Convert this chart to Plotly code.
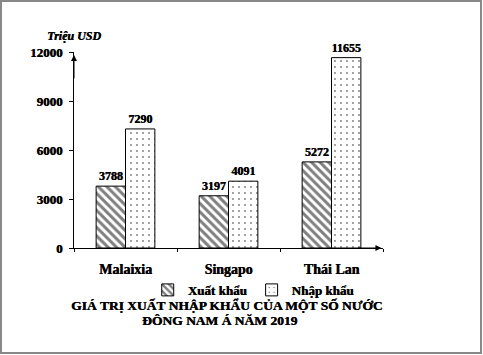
import plotly.graph_objects as go

categories = ["Malaixia", "Singapo", "Thái Lan"]
export_vals = [3788, 3197, 5272]
import_vals = [7290, 4091, 11655]
series_names = ["Xuất khẩu", "Nhập khẩu"]
y_ticks = [0, 3000, 6000, 9000, 12000]
y_title = "Triệu USD"
title_lines = ["GIÁ TRỊ XUẤT NHẬP KHẨU CỦA MỘT SỐ NƯỚC", "ĐÔNG NAM Á NĂM 2019"]

FONT = "Liberation Serif"
SH = "0.5px 0px 0px black"


def f(size):
    return dict(family=FONT, size=size, color="black", shadow=SH)


fig = go.Figure()
fig.add_trace(go.Bar(
    name="<b>" + series_names[0] + "</b>", x=categories, y=export_vals,
    text=["<b>%d</b>" % v for v in export_vals], textposition="outside",
    textfont=f(12), cliponaxis=False,
    marker=dict(color="white", line=dict(color="black", width=1),
                pattern=dict(shape="\\", fgcolor="black", bgcolor="white", size=6, solidity=0.5)),
))
fig.add_trace(go.Bar(
    name="<b>" + series_names[1] + "</b>", x=categories, y=import_vals,
    text=["<b>%d</b>" % v for v in import_vals], textposition="outside",
    textfont=f(12), cliponaxis=False,
    marker=dict(color="white", line=dict(color="black", width=1),
                pattern=dict(shape=".", fgcolor="black", bgcolor="white", size=6, solidity=0.08)),
))

fig.update_layout(
    width=483, height=355,
    margin=dict(l=74, r=100, t=52, b=107),
    paper_bgcolor="white", plot_bgcolor="white",
    barmode="group", bargap=0.43, bargroupgap=0,
    font=dict(family=FONT, size=13, color="black"),
    showlegend=True,
    legend=dict(orientation="h", x=0.58, xanchor="center", y=-0.214, yanchor="middle",
                font=f(13), itemwidth=30, bgcolor="rgba(0,0,0,0)"),
    xaxis=dict(showline=True, linecolor="black", linewidth=1, ticks="outside",
               tickson="boundaries", ticklen=3, tickcolor="black", showgrid=False,
               tickmode="array", tickvals=categories,
               ticktext=["<b>" + c + "</b>" for c in categories],
               tickfont=f(14), ticklabelstandoff=8),
    yaxis=dict(range=[0, 12000], tickmode="array", tickvals=y_ticks,
               ticktext=["<b>%d</b>" % v for v in y_ticks], showline=True, linecolor="black",
               linewidth=1, ticks="outside", ticklen=4, tickcolor="black", showgrid=False,
               zeroline=False, tickfont=f(13), ticklabelstandoff=4),
)

# axis arrows
fig.add_annotation(xref="paper", yref="paper", x=0, y=0.985, ax=0, ay=25,
                   showarrow=True, arrowhead=2, arrowsize=1.2, arrowwidth=1,
                   arrowcolor="black", text="")
fig.add_annotation(xref="paper", yref="paper", x=0.995, y=0, ax=-25, ay=0,
                   showarrow=True, arrowhead=2, arrowsize=1.2, arrowwidth=1,
                   arrowcolor="black", text="")

# y-axis title
fig.add_annotation(xref="paper", yref="paper", x=0.0, y=1.08, xanchor="center", yanchor="middle",
                   text="<b><i>" + y_title + "</i></b>", showarrow=False, font=f(12))

# chart title
fig.add_annotation(xref="paper", yref="paper", x=0.495, y=-0.291, xanchor="center", yanchor="middle",
                   text="<b>" + title_lines[0] + "</b>", showarrow=False, font=f(13.5))
fig.add_annotation(xref="paper", yref="paper", x=0.472, y=-0.372, xanchor="center", yanchor="middle",
                   text="<b>" + title_lines[1] + "</b>", showarrow=False, font=f(13.5))

# outer frame
fig.add_shape(type="rect", xref="paper", yref="paper",
              x0=(1 - 74) / 309, x1=(481 - 74) / 309, y0=(248 - 353) / 196, y1=(248 - 1) / 196,
              line=dict(color="#888888", width=2), fillcolor="rgba(0,0,0,0)", layer="above")

fig.write_html("out.html")
